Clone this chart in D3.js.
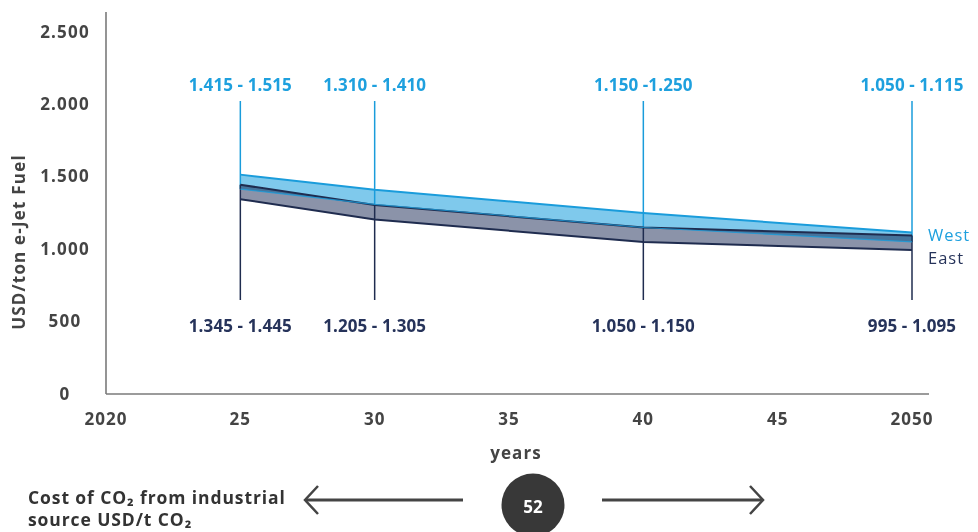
<!DOCTYPE html>
<html>
<head>
<meta charset="utf-8">
<script src="https://cdn.jsdelivr.net/npm/d3@7"></script>
<style>
  html, body { margin: 0; padding: 0; background: #fff; }
  svg { display: block; font-family: "Open Sans", "Lato", sans-serif; }
</style>
</head>
<body>
<svg id="chart" width="978" height="532"></svg>
<script>
// Cost ranges of e-Jet fuel (USD/ton) for West and East production regions
const years = [2025, 2030, 2040, 2050];
const westLow  = [1415, 1310, 1150, 1050];
const westHigh = [1515, 1410, 1250, 1115];
const eastLow  = [1345, 1205, 1050, 995];
const eastHigh = [1445, 1305, 1150, 1095];
const westLabels = ["1.415 - 1.515", "1.310 - 1.410", "1.150 -1.250", "1.050 - 1.115"];
const eastLabels = ["1.345 - 1.445", "1.205 - 1.305", "1.050 - 1.150", "995 - 1.095"];
const xTickValues = [2020, 2025, 2030, 2035, 2040, 2045, 2050];
const xTickLabels = ["2020", "25", "30", "35", "40", "45", "2050"];
const yTickValues = [0, 500, 1000, 1500, 2000, 2500];
const yTickLabels = ["0", "500", "1.000", "1.500", "2.000", "2.500"];
const co2Cost = 52;

const colors = {
  westFill: "#7fc9ec",
  westLine: "#1a9cdb",
  eastFill: "#8b93a9",
  eastLine: "#1f2c4f",
  axis: "#7a7a7a",
  tick: "#444",
  westText: "#1ea0de",
  eastText: "#26335a"
};

const svg = d3.select("#chart");
const x = d3.scaleLinear().domain([2020, 2050]).range([106, 912]);
const y = d3.scaleLinear().domain([0, 2500]).range([394, 32]);

const west = years.map((yr, i) => ({ yr, lo: westLow[i], hi: westHigh[i] }));
const east = years.map((yr, i) => ({ yr, lo: eastLow[i], hi: eastHigh[i] }));

// axes lines
svg.append("line").attr("x1", 106).attr("x2", 106).attr("y1", 12).attr("y2", y(0))
  .attr("stroke", colors.axis).attr("stroke-width", 1.6);
svg.append("line").attr("x1", 106).attr("x2", 929).attr("y1", y(0)).attr("y2", y(0))
  .attr("stroke", colors.axis).attr("stroke-width", 1.6);

// y tick labels
svg.append("g").selectAll("text").data(yTickValues).join("text")
  .attr("x", 65).attr("y", d => y(d) - 1)
  .attr("text-anchor", "middle").attr("dominant-baseline", "central")
  .attr("font-size", 17).attr("font-weight", 700).attr("letter-spacing", 1.2).attr("fill", colors.tick)
  .text((d, i) => yTickLabels[i]);

// x tick labels
svg.append("g").selectAll("text").data(xTickValues).join("text")
  .attr("x", d => x(d)).attr("y", 418)
  .attr("text-anchor", "middle").attr("dominant-baseline", "central")
  .attr("font-size", 17).attr("font-weight", 700).attr("letter-spacing", 1).attr("fill", colors.tick)
  .text((d, i) => xTickLabels[i]);

// axis titles
svg.append("text").attr("x", 516).attr("y", 452)
  .attr("text-anchor", "middle").attr("dominant-baseline", "central")
  .attr("font-size", 17).attr("font-weight", 700).attr("letter-spacing", 1.1).attr("fill", colors.tick)
  .text("years");
svg.append("text")
  .attr("transform", "translate(18,242) rotate(-90)")
  .attr("text-anchor", "middle").attr("dominant-baseline", "central")
  .attr("font-size", 17).attr("font-weight", 700).attr("letter-spacing", 1.2).attr("fill", colors.tick)
  .text("USD/ton e-Jet Fuel");

// range bands
const area = d3.area().x(d => x(d.yr)).y0(d => y(d.lo)).y1(d => y(d.hi));
const lineHi = d3.line().x(d => x(d.yr)).y(d => y(d.hi));
const lineLo = d3.line().x(d => x(d.yr)).y(d => y(d.lo));

svg.append("path").datum(east).attr("d", area).attr("fill", colors.eastFill);
svg.append("path").datum(west).attr("d", area).attr("fill", colors.westFill)
  .style("mix-blend-mode", "multiply");

// vertical marker lines per year
svg.append("g").selectAll("line").data(west).join("line")
  .attr("x1", d => x(d.yr)).attr("x2", d => x(d.yr))
  .attr("y1", 101).attr("y2", d => y(d.lo))
  .attr("stroke", colors.westLine).attr("stroke-width", 1.5);
svg.append("g").selectAll("line").data(east).join("line")
  .attr("x1", d => x(d.yr)).attr("x2", d => x(d.yr))
  .attr("y1", d => y(d.hi)).attr("y2", 300)
  .attr("stroke", colors.eastLine).attr("stroke-width", 1.5);

// band edges
svg.append("path").datum(east).attr("d", lineLo).attr("fill", "none")
  .attr("stroke", colors.eastLine).attr("stroke-width", 2);
svg.append("path").datum(east).attr("d", lineHi).attr("fill", "none")
  .attr("stroke", colors.eastLine).attr("stroke-width", 2);
svg.append("path").datum(west).attr("d", lineLo).attr("fill", "none")
  .attr("stroke", colors.westLine).attr("stroke-width", 1.2).attr("stroke-opacity", 0.8);
svg.append("path").datum(west).attr("d", lineHi).attr("fill", "none")
  .attr("stroke", colors.westLine).attr("stroke-width", 2);

// range labels
svg.append("g").selectAll("text").data(years).join("text")
  .attr("x", d => x(d)).attr("y", 84)
  .attr("text-anchor", "middle").attr("dominant-baseline", "central")
  .attr("font-size", 17).attr("font-weight", 700).attr("letter-spacing", 0.1).attr("fill", colors.westText)
  .text((d, i) => westLabels[i]);
svg.append("g").selectAll("text").data(years).join("text")
  .attr("x", d => x(d)).attr("y", 325)
  .attr("text-anchor", "middle").attr("dominant-baseline", "central")
  .attr("font-size", 17).attr("font-weight", 700).attr("letter-spacing", 0.1).attr("fill", colors.eastText)
  .text((d, i) => eastLabels[i]);

// legend
svg.append("text").attr("x", 928).attr("y", 234).attr("dominant-baseline", "central")
  .attr("font-size", 16.5).attr("letter-spacing", 1).attr("fill", colors.westText).text("West");
svg.append("text").attr("x", 928).attr("y", 257).attr("dominant-baseline", "central")
  .attr("font-size", 16.5).attr("letter-spacing", 1).attr("fill", colors.eastText).text("East");

// CO2 cost footer
const foot = svg.append("text").attr("font-size", 17.5).attr("font-weight", 700)
  .attr("letter-spacing", 0.9).attr("fill", "#333");
foot.append("tspan").attr("x", 28).attr("y", 504).text("Cost of CO₂ from industrial");
foot.append("tspan").attr("x", 28).attr("y", 526).text("source USD/t CO₂");

const arrowColor = "#444";
svg.append("line").attr("x1", 306).attr("x2", 463).attr("y1", 500).attr("y2", 500)
  .attr("stroke", arrowColor).attr("stroke-width", 3);
svg.append("path").attr("d", "M318,486 L305,500 L318,514").attr("fill", "none")
  .attr("stroke", arrowColor).attr("stroke-width", 2.5);
svg.append("line").attr("x1", 602).attr("x2", 763).attr("y1", 500).attr("y2", 500)
  .attr("stroke", arrowColor).attr("stroke-width", 3);
svg.append("path").attr("d", "M750,486 L763,500 L750,514").attr("fill", "none")
  .attr("stroke", arrowColor).attr("stroke-width", 2.5);

svg.append("circle").attr("cx", 533).attr("cy", 505).attr("r", 31.5).attr("fill", "#383838");
svg.append("text").attr("x", 533).attr("y", 506).attr("text-anchor", "middle").attr("dominant-baseline", "central")
  .attr("font-size", 17).attr("font-weight", 700).attr("fill", "#fff").text(co2Cost);
</script>
</body>
</html>
